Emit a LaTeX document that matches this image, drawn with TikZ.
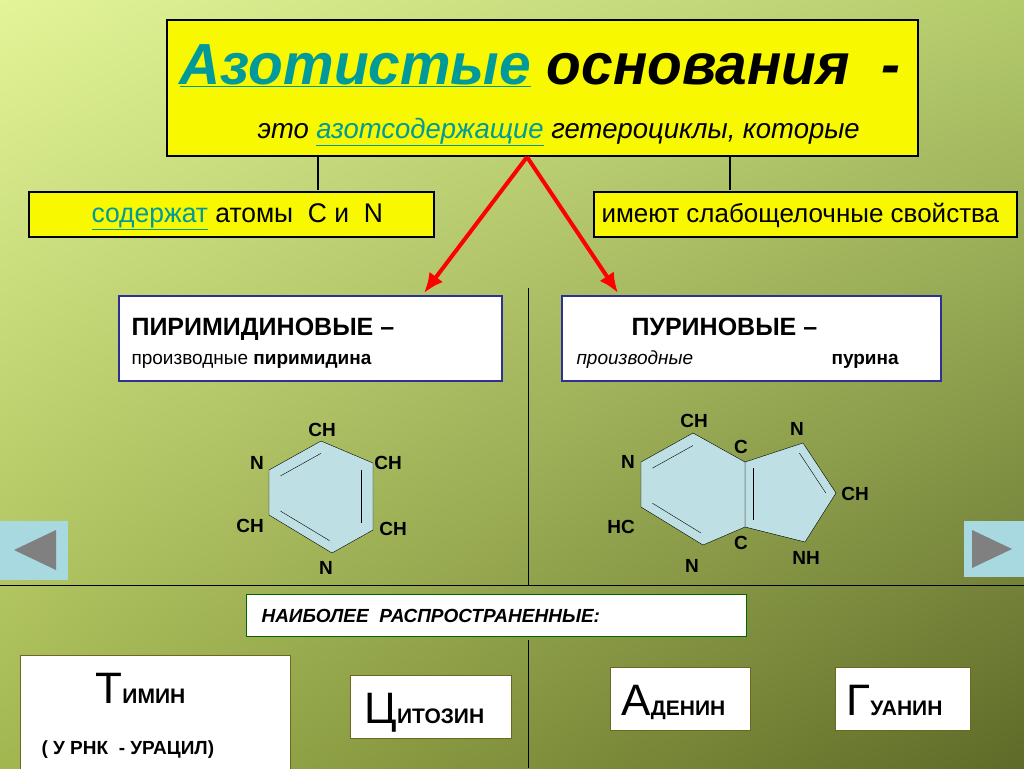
\documentclass[tikz,border=0pt]{standalone}
\usepackage{fontspec}
\setmainfont{Liberation Sans}
\usetikzlibrary{calc,positioning,shadings,arrows.meta}
\definecolor{bgtl}{HTML}{E2F497}
\definecolor{bgtr}{HTML}{B4CB6C}
\definecolor{bgbl}{HTML}{A2B650}
\definecolor{bgbr}{HTML}{5E6A28}
\definecolor{ylw}{HTML}{F8F800}
\definecolor{tealt}{HTML}{009A9A}
\definecolor{navy}{HTML}{2E3192}
\definecolor{ring}{HTML}{BEE0E4}
\definecolor{navbg}{HTML}{A8D8E0}
\newcommand{\fs}[1]{\fontsize{#1}{#1}\selectfont}
\begin{document}
\begin{tikzpicture}[x=1pt,y=-1pt,
  ybox/.style={draw,line width=1.6pt,fill=ylw,anchor=north west,inner sep=0pt},
  wbox/.style={draw=navy,line width=1.5pt,fill=white,anchor=north west,inner sep=0pt},
  gbox/.style={draw=olive!70!black,line width=1pt,fill=white,anchor=north west,inner sep=0pt},
  redarrow/.style={red,line width=4pt,-{Latex[length=20pt,width=17pt]}},
  atom/.style={font=\bfseries\fs{19},inner sep=0pt},
  bond/.style={thin}]
\useasboundingbox (0,0) rectangle (1024,768);
\shade[upper left=bgtl,upper right=bgtr,lower left=bgbl,lower right=bgbr] (0,0) rectangle (1024,768);

% top boxes
\node[ybox,minimum width=751pt,minimum height=136pt] (top) at (166,19) {};
\node[anchor=base west,font=\bfseries\itshape\fs{58}] (title) at (176,84)
  {\scalebox{0.98}[1]{\textcolor{tealt}{\underline{Азотистые}} основания\ \ -}};
\node[anchor=base west,font=\itshape\fs{28}] (sub) at (254,138)
  {\scalebox{0.98}[1]{это \textcolor{tealt}{\underline{азотсодержащие}} гетероциклы, которые}};
\node[ybox,minimum width=405pt,minimum height=45pt] (left) at (28,191) {};
\node[anchor=base west,font=\fs{27}] at (88,222)
  {\scalebox{0.98}[1]{\textcolor{tealt}{\underline{содержат}} атомы\ \ С\ и\ \ N}};
\node[ybox,minimum width=423pt,minimum height=45pt] (right) at (593,191) {};
\node[anchor=base west,font=\fs{26}] at (598,222) {имеют слабощелочные свойства};
\draw[line width=2.5pt] (318,157) -- (318,190);
\draw[line width=2.5pt] (730,157) -- (730,190);

% dividers
\draw (0,585) -- (1024,585);
\draw (528,288) -- (528,585);
\draw (528,640) -- (528,768);

% class boxes
\node[wbox,minimum width=383pt,minimum height=85pt] (pyr) at (118,295) {};
\node[anchor=base west,font=\bfseries\fs{25}] at (128,335) {ПИРИМИДИНОВЫЕ --};
\node[anchor=base west,font=\fs{19}] at (128,364) {производные \textbf{пиримидина}};
\node[wbox,minimum width=379pt,minimum height=85pt] (pur) at (561,295) {};
\node[anchor=base west,font=\bfseries\fs{25}] at (628,335) {ПУРИНОВЫЕ --};
\node[anchor=base west,font=\bfseries\itshape\fs{19}] at (573,364) {\mdseries производные};
\node[anchor=base west,font=\bfseries\fs{19}] at (828,364) {пурина};
\coordinate (apex) at (527,157);
\draw[redarrow] (apex) -- (424,293);
\draw[redarrow] (apex) -- (618,293);

% pyrimidine
\coordinate (p1) at (321,441); \coordinate (p2) at (373,463);
\coordinate (p3) at (373,530); \coordinate (p4) at (332,553);
\coordinate (p5) at (269,515); \coordinate (p6) at (269,470);
\coordinate (pc) at (321,497);
\draw[fill=ring] (p1)--(p2)--(p3)--(p4)--(p5)--(p6)--cycle;
\draw[bond] ($(p6)!0.22!(pc)$) -- ($(p1)!0.22!(pc)$);
\draw[bond] ($(p2)!0.22!(pc)$) -- ($(p3)!0.22!(pc)$);
\draw[bond] ($(p4)!0.22!(pc)$) -- ($(p5)!0.22!(pc)$);
\node[atom] at (322,430) {CH};
\node[atom] at (257,463) {N};
\node[atom] at (388,463) {CH};
\node[atom] at (250,526) {CH};
\node[atom] at (393,529) {CH};
\node[atom] at (326,568) {N};

% purine
\coordinate (q1) at (693,433); \coordinate (q2) at (745,462);
\coordinate (q3) at (745,527); \coordinate (q4) at (703,545);
\coordinate (q5) at (641,507); \coordinate (q6) at (641,462);
\coordinate (qc) at (693,490);
\coordinate (r1) at (803,443); \coordinate (r2) at (836,493);
\coordinate (r3) at (805,542); \coordinate (rc) at (785,493);
\draw[fill=ring] (q2)--(r1)--(r2)--(r3)--(q3)--cycle;
\draw[fill=ring] (q1)--(q2)--(q3)--(q4)--(q5)--(q6)--cycle;
\draw[bond] ($(q6)!0.22!(qc)$) -- ($(q1)!0.22!(qc)$);
\draw[bond] ($(q4)!0.22!(qc)$) -- ($(q5)!0.22!(qc)$);
\draw[bond] ($(q2)!0.2!(rc)$) -- ($(q3)!0.2!(rc)$);
\draw[bond] ($(r1)!0.2!(rc)$) -- ($(r2)!0.2!(rc)$);
\node[atom] at (694,421) {CH};
\node[atom] at (741,447) {C};
\node[atom] at (797,429) {N};
\node[atom] at (628,462) {N};
\node[atom] at (855,494) {CH};
\node[atom] at (621,527) {HC};
\node[atom] at (741,543) {C};
\node[atom] at (692,566) {N};
\node[atom] at (806,558) {NH};

% navigation
\node[fill=navbg,anchor=north west,minimum width=68pt,minimum height=59pt,inner sep=0pt] (prev) at (0,521) {};
\fill[gray] (14,550) -- (56,530) -- (56,570) -- cycle;
\node[fill=navbg,anchor=north west,minimum width=60pt,minimum height=56pt,inner sep=0pt] (next) at (964,521) {};
\fill[gray] (1012,549) -- (972,530) -- (972,568) -- cycle;

% common bases
\node[draw=green!40!black,line width=1pt,fill=white,anchor=north west,minimum width=500pt,minimum height=42pt,inner sep=0pt] (common) at (246,594) {};
\node[anchor=base west,font=\bfseries\itshape\fs{19}] at (258,622) {НАИБОЛЕЕ\ \ РАСПРОСТРАНЕННЫЕ:};
\node[gbox,minimum width=270pt,minimum height=115pt] (thy) at (20,655) {};
\node[anchor=base west,font=\bfseries] at (92,703) {{\mdseries\fs{44}Т}{\fs{21}ИМИН}};
\node[anchor=base west,font=\bfseries\fs{19}] at (38,754) {( У РНК\ \ - УРАЦИЛ)};
\node[gbox,minimum width=161pt,minimum height=63pt] (cyt) at (350,675) {};
\node[anchor=base west,font=\bfseries] at (361,723) {{\mdseries\fs{44}Ц}{\fs{21}ИТОЗИН}};
\node[gbox,minimum width=140pt,minimum height=63pt] (ade) at (610,667) {};
\node[anchor=base west,font=\bfseries] at (618,715) {{\mdseries\fs{44}А}{\fs{21}ДЕНИН}};
\node[gbox,minimum width=135pt,minimum height=63pt] (gua) at (835,667) {};
\node[anchor=base west,font=\bfseries] at (843,715) {{\mdseries\fs{44}Г}{\fs{21}УАНИН}};
\end{tikzpicture}
\end{document}
